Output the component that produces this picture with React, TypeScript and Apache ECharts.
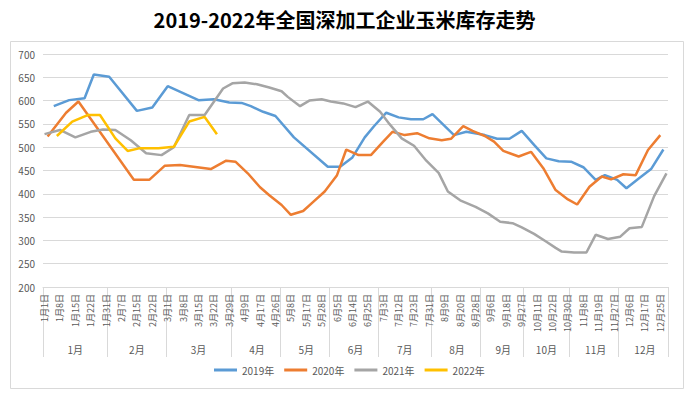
import React, { useEffect, useRef } from "react";
import * as echarts from "echarts";

const titleText = "2019-2022年全国深加工企业玉米库存走势";
const categoryCount = 203;
const labelStep = 5;
const dateLabels = [
  "1月1日", "1月8日", "1月15日", "1月22日", "1月31日", "2月7日", "2月15日", "2月22日",
  "3月1日", "3月8日", "3月15日", "3月22日", "3月29日", "4月9日", "4月17日", "4月26日",
  "5月8日", "5月17日", "5月28日", "6月5日", "6月14日", "6月25日", "7月3日", "7月12日",
  "7月23日", "7月31日", "8月9日", "8月20日", "8月28日", "9月6日", "9月18日", "9月27日",
  "10月11日", "10月22日", "10月30日", "11月8日", "11月19日", "11月27日", "12月6日",
  "12月17日", "12月25日",
];
const monthNames = ["1月", "2月", "3月", "4月", "5月", "6月", "7月", "8月", "9月", "10月", "11月", "12月"];
const monthStarts = [0, 21, 40, 61, 77, 93, 109, 126, 142, 156, 171, 187];

const seriesNames = ["2019年", "2020年", "2021年", "2022年"];
const seriesColors = ["#5B9BD5", "#ED7D31", "#A5A5A5", "#FFC000"];

const x2019 = [3, 8, 13, 16, 21, 30, 35, 40, 50, 55, 60, 64, 67, 71, 75, 81, 92, 96, 100, 104, 107, 111, 115, 119, 123, 126, 133, 137, 143, 147, 151, 155, 159, 163, 167, 171, 175, 179, 182, 186, 189, 193, 197, 201];
const v2019 = [588, 601, 605, 656, 651, 578, 585, 631, 601, 603, 596, 595, 588, 576, 567, 521, 458, 458, 478, 521, 545, 574, 564, 560, 560, 571, 526, 533, 526, 518, 518, 535, 505, 476, 470, 469, 457, 430, 440, 430, 412, 433, 453, 495];

const x2020 = [1, 7, 11, 29, 34, 39, 44, 54, 59, 62, 66, 70, 73, 77, 80, 84, 87, 91, 95, 98, 102, 106, 110, 113, 117, 121, 125, 129, 132, 136, 139, 143, 146, 149, 154, 158, 162, 166, 170, 173, 177, 181, 184, 188, 192, 196, 200];
const v2020 = [523, 574, 598, 430, 430, 460, 462, 453, 471, 469, 444, 414, 397, 376, 355, 363, 381, 405, 440, 495, 483, 483, 512, 533, 526, 530, 519, 515, 518, 545, 535, 524, 512, 492, 480, 490, 455, 408, 388, 377, 415, 437, 431, 442, 440, 494, 526];

const x2021 = [0, 5, 10, 15, 19, 23, 28, 33, 38, 42, 47, 52, 58, 61, 65, 69, 73, 77, 79, 83, 86, 90, 93, 97, 101, 105, 109, 112, 116, 120, 124, 128, 131, 135, 140, 144, 148, 152, 155, 159, 163, 166, 168, 172, 176, 179, 183, 187, 190, 194, 198, 202];
const v2021 = [528, 537, 521, 533, 538, 537, 515, 487, 483, 500, 569, 569, 626, 637, 639, 635, 628, 620, 608, 588, 600, 603, 598, 594, 586, 598, 576, 550, 519, 503, 471, 445, 405, 386, 372, 358, 340, 337, 328, 314, 297, 284, 276, 274, 274, 312, 303, 308, 326, 329, 395, 444];

const x2022 = [4, 9, 14, 18, 23, 27, 31, 37, 42, 47, 52, 56];
const v2022 = [524, 555, 569, 569, 519, 492, 498, 498, 501, 555, 565, 528];

const yMin = 200;
const yMax = 700;
const yInterval = 50;

const FONT = "'Noto Sans CJK SC', 'Noto Sans', sans-serif";

export default function App() {
  const ref = useRef<HTMLDivElement>(null);

  useEffect(() => {
    if (!ref.current) return;
    const chart = echarts.init(ref.current, null, { renderer: "svg" });

    const categories: string[] = [];
    for (let i = 0; i < categoryCount; i++) {
      const k = i / labelStep;
      categories.push(i % labelStep === 0 && k < dateLabels.length ? dateLabels[k] : "c" + i);
    }
    const monthLabelAt: Record<number, string> = {};
    monthStarts.forEach((s, m) => {
      const e = m + 1 < monthStarts.length ? monthStarts[m + 1] : categoryCount;
      monthLabelAt[Math.round((s + e) / 2 - 0.5)] = monthNames[m];
    });
    const startSet = new Set(monthStarts);

    const xs = [x2019, x2020, x2021, x2022];
    const vs = [v2019, v2020, v2021, v2022];

    chart.setOption({
      animation: false,
      backgroundColor: "#ffffff",
      title: {
        text: titleText,
        left: "center",
        top: 4,
        textStyle: { fontFamily: FONT, fontSize: 20, fontWeight: "bold", color: "#000000" },
      },
      graphic: [
        {
          type: "rect",
          shape: { x: 10.5, y: 41.5, width: 673, height: 347 },
          style: { fill: "none", stroke: "#D9D9D9", lineWidth: 1 },
          silent: true,
          z: -1,
        },
      ],
      legend: {
        left: 214,
        top: 365,
        padding: 0,
        icon: "rect",
        itemWidth: 23,
        itemHeight: 3,
        itemGap: 10,
        textStyle: { fontFamily: FONT, fontSize: 10, color: "#595959" },
        data: seriesNames,
      },
      grid: { left: 43, right: 21, top: 54, bottom: 114, outerBoundsMode: "none" },
      xAxis: [
        {
          type: "category",
          position: "bottom",
          data: categories,
          boundaryGap: true,
          axisLine: { show: true, lineStyle: { color: "#D9D9D9", width: 1 } },
          axisTick: { show: false },
          axisLabel: {
            rotate: 90,
            interval: (i: number) => i % labelStep === 0 && i / labelStep < dateLabels.length,
            fontFamily: FONT,
            fontSize: 9,
            color: "#595959",
            margin: 7,
            hideOverlap: false,
          },
          splitLine: { show: false },
        },
        {
          type: "category",
          position: "bottom",
          data: categories,
          boundaryGap: true,
          axisLine: { show: false },
          axisTick: {
            show: true,
            interval: (i: number) => startSet.has(i),
            length: 70,
            lineStyle: { color: "#D9D9D9", width: 1 },
          },
          axisLabel: {
            interval: (i: number) => monthLabelAt[i] !== undefined,
            formatter: (_v: string, i: number) => monthLabelAt[i] || "",
            fontFamily: FONT,
            fontSize: 10,
            color: "#595959",
            margin: 57,
            hideOverlap: false,
          },
          splitLine: { show: false },
        },
      ],
      yAxis: {
        type: "value",
        min: yMin,
        max: yMax,
        interval: yInterval,
        axisLine: { show: false },
        axisTick: { show: false },
        axisLabel: { fontFamily: FONT, fontSize: 10, color: "#595959", margin: 8 },
        splitLine: { lineStyle: { color: "#D9D9D9", width: 1 } },
      },
      series: seriesNames.map((name, s) => ({
        name,
        type: "line",
        xAxisIndex: 0,
        showSymbol: false,
        symbol: "none",
        color: seriesColors[s],
        lineStyle: { width: 2.5, color: seriesColors[s] },
        data: xs[s].map((x, j) => [x, vs[s][j]]),
      })),
    });

    return () => chart.dispose();
  }, []);

  return (
    <div
      ref={ref}
      style={{ position: "fixed", left: 0, top: 0, width: 689, height: 401, background: "#fff" }}
    />
  );
}
